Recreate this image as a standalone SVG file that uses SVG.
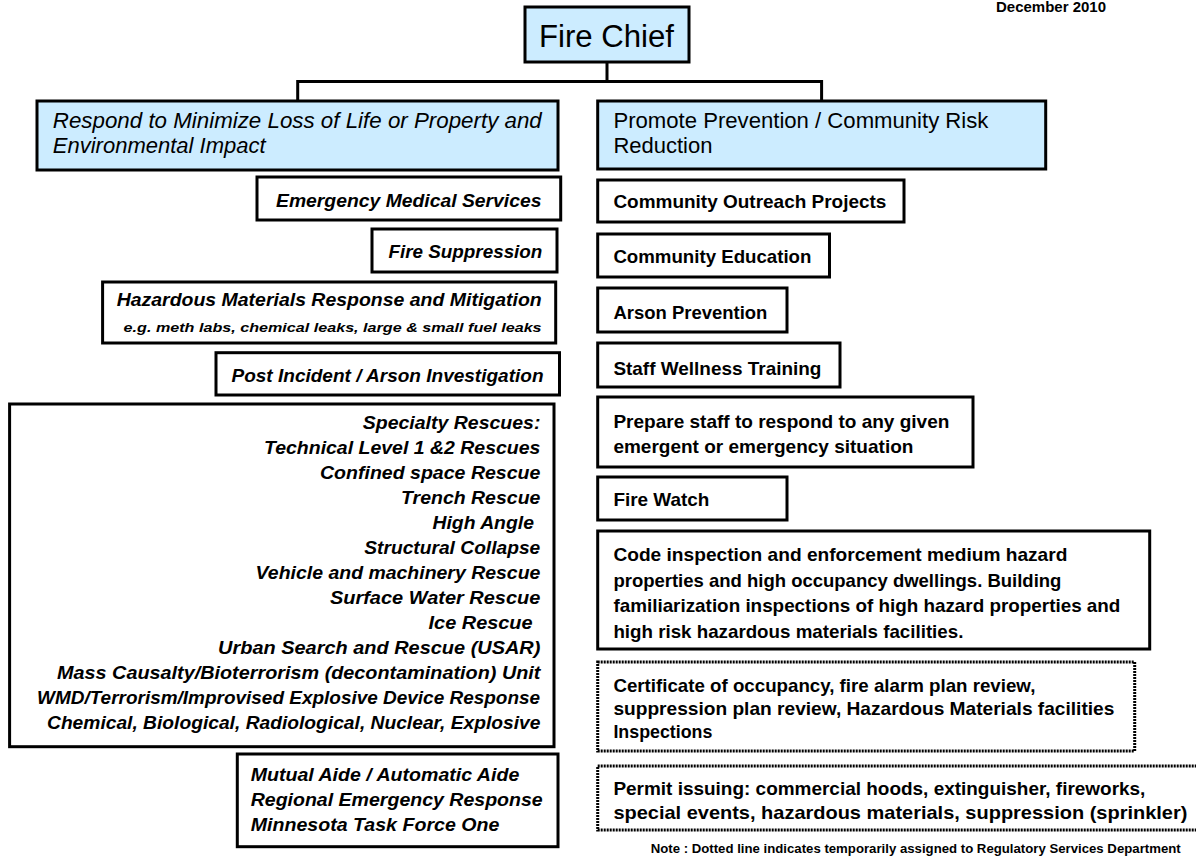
<svg xmlns="http://www.w3.org/2000/svg" width="1196" height="863" viewBox="0 0 1196 863">
<style>
.box{fill:#fff;stroke:#000;stroke-width:3}
.hdr{fill:#CCECFF;stroke:#000;stroke-width:3}
.dot{fill:#fff;stroke:#000;stroke-width:3;stroke-dasharray:2 1}
.conn{fill:none;stroke:#000;stroke-width:3}
text{font-family:"Liberation Sans",Arial,sans-serif;fill:#000}
.li{font-size:19px;font-weight:bold;font-style:italic}
.ri{font-size:19px;font-weight:bold}
.hl{font-size:22px;font-style:italic}
.hr{font-size:22px}
.sm{font-size:13.5px;font-weight:bold;font-style:italic}
.note{font-size:13px;font-weight:bold}
.date{font-size:14px;font-weight:bold}
</style>
<rect width="1196" height="863" fill="#fff"/>
<g id="connectors">
<path class="conn" d="M607 62 V81.5 M297.7 81.5 H821.6 M297.7 80 V101 M821.6 80 V101"/>
</g>
<g id="date"><text class="date" x="996" y="12" textLength="110" lengthAdjust="spacingAndGlyphs">December 2010</text></g>
<g id="fire-chief">
<rect class="hdr" x="525" y="7" width="164" height="55"/>
<text x="539" y="46.7" style="font-size:31px" textLength="135" lengthAdjust="spacingAndGlyphs">Fire Chief</text>
</g>
<g id="respond">
<rect class="hdr" x="37" y="101" width="521" height="69"/>
<text class="hl" x="52.8" y="128" textLength="489" lengthAdjust="spacingAndGlyphs">Respond to Minimize Loss of Life or Property and</text>
<text class="hl" x="52.8" y="153">Environmental Impact</text>
</g>
<g id="prevention">
<rect class="hdr" x="597.7" y="101" width="448" height="68"/>
<text class="hr" x="613.4" y="128" textLength="375" lengthAdjust="spacingAndGlyphs">Promote Prevention / Community Risk</text>
<text class="hr" x="613.4" y="153">Reduction</text>
</g>
<g id="ems">
<rect class="box" x="257" y="177" width="303.7" height="43"/>
<text class="li" x="276" y="206.7" textLength="265.5" lengthAdjust="spacingAndGlyphs">Emergency Medical Services</text>
</g>
<g id="fire-suppression">
<rect class="box" x="372" y="229" width="185" height="43"/>
<text class="li" x="388.4" y="258" textLength="154" lengthAdjust="spacingAndGlyphs">Fire Suppression</text>
</g>
<g id="hazmat">
<rect class="box" x="102.6" y="282" width="453.1" height="61"/>
<text class="li" x="116.7" y="306" textLength="425" lengthAdjust="spacingAndGlyphs">Hazardous Materials Response and Mitigation</text>
<text class="sm" x="123.6" y="331.7" textLength="418" lengthAdjust="spacingAndGlyphs">e.g. meth labs, chemical leaks, large &amp; small fuel leaks</text>
</g>
<g id="post-incident">
<rect class="box" x="216" y="352.7" width="343.5" height="42.3"/>
<text class="li" x="231.5" y="381.7" textLength="312" lengthAdjust="spacingAndGlyphs">Post Incident / Arson Investigation</text>
</g>
<g id="specialty">
<rect class="box" x="9.6" y="404" width="544.4" height="342.7"/>
<text class="li" x="362.8" y="429" textLength="177.6" lengthAdjust="spacingAndGlyphs">Specialty Rescues:</text>
<text class="li" x="264" y="454" textLength="276.4" lengthAdjust="spacingAndGlyphs">Technical Level 1 &amp;2 Rescues</text>
<text class="li" x="320" y="479" textLength="220.4" lengthAdjust="spacingAndGlyphs">Confined space Rescue</text>
<text class="li" x="401" y="504" textLength="139.4" lengthAdjust="spacingAndGlyphs">Trench Rescue</text>
<text class="li" x="432.5" y="529" textLength="101.4" lengthAdjust="spacingAndGlyphs">High Angle</text>
<text class="li" x="364.3" y="554" textLength="176" lengthAdjust="spacingAndGlyphs">Structural Collapse</text>
<text class="li" x="255.6" y="579" textLength="284.8" lengthAdjust="spacingAndGlyphs">Vehicle and machinery Rescue</text>
<text class="li" x="329.9" y="604" textLength="210.5" lengthAdjust="spacingAndGlyphs">Surface Water Rescue</text>
<text class="li" x="428.6" y="629" textLength="104" lengthAdjust="spacingAndGlyphs">Ice Rescue</text>
<text class="li" x="218.1" y="654" textLength="322.3" lengthAdjust="spacingAndGlyphs">Urban Search and Rescue (USAR)</text>
<text class="li" x="57" y="679" textLength="483.4" lengthAdjust="spacingAndGlyphs">Mass Causalty/Bioterrorism (decontamination) Unit</text>
<text class="li" x="37.1" y="704" textLength="503" lengthAdjust="spacingAndGlyphs">WMD/Terrorism/Improvised Explosive Device Response</text>
<text class="li" x="47" y="729" textLength="493.4" lengthAdjust="spacingAndGlyphs">Chemical, Biological, Radiological, Nuclear, Explosive</text>
</g>
<g id="mutual-aide">
<rect class="box" x="237.3" y="754" width="320.7" height="92.7"/>
<text class="li" x="250.7" y="781" textLength="268.6" lengthAdjust="spacingAndGlyphs">Mutual Aide / Automatic Aide</text>
<text class="li" x="250.7" y="806" textLength="292" lengthAdjust="spacingAndGlyphs">Regional Emergency Response</text>
<text class="li" x="250.7" y="831" textLength="248.7" lengthAdjust="spacingAndGlyphs">Minnesota Task Force One</text>
</g>
<g id="outreach">
<rect class="box" x="597.7" y="180" width="306.3" height="42"/>
<text class="ri" x="613.4" y="208" textLength="273" lengthAdjust="spacingAndGlyphs">Community Outreach Projects</text>
</g>
<g id="education">
<rect class="box" x="597.7" y="234" width="231.8" height="43"/>
<text class="ri" x="613.4" y="263" textLength="198" lengthAdjust="spacingAndGlyphs">Community Education</text>
</g>
<g id="arson-prevention">
<rect class="box" x="597.7" y="288" width="189.3" height="44"/>
<text class="ri" x="613.4" y="319" textLength="154" lengthAdjust="spacingAndGlyphs">Arson Prevention</text>
</g>
<g id="wellness">
<rect class="box" x="597.7" y="343" width="242.3" height="44"/>
<text class="ri" x="613.4" y="375" textLength="208" lengthAdjust="spacingAndGlyphs">Staff Wellness Training</text>
</g>
<g id="prepare">
<rect class="box" x="597.7" y="397" width="375.3" height="70"/>
<text class="ri" x="613.4" y="428" textLength="336" lengthAdjust="spacingAndGlyphs">Prepare staff to respond to any given</text>
<text class="ri" x="613.4" y="453" textLength="300" lengthAdjust="spacingAndGlyphs">emergent or emergency situation</text>
</g>
<g id="fire-watch">
<rect class="box" x="597.7" y="477" width="189.3" height="43"/>
<text class="ri" x="613.4" y="506" textLength="96" lengthAdjust="spacingAndGlyphs">Fire Watch</text>
</g>
<g id="code-inspection">
<rect class="box" x="597.7" y="531" width="552" height="118"/>
<text class="ri" x="613.4" y="561" textLength="454" lengthAdjust="spacingAndGlyphs">Code inspection and enforcement medium hazard</text>
<text class="ri" x="613.4" y="586.5" textLength="448" lengthAdjust="spacingAndGlyphs">properties and high occupancy dwellings. Building</text>
<text class="ri" x="613.4" y="612" textLength="507" lengthAdjust="spacingAndGlyphs">familiarization inspections of high hazard properties and</text>
<text class="ri" x="613.4" y="637.5" textLength="350" lengthAdjust="spacingAndGlyphs">high risk hazardous materials facilities.</text>
</g>
<g id="certificate">
<rect class="dot" x="597.7" y="662" width="537" height="89"/>
<text class="ri" x="613.4" y="692" textLength="422" lengthAdjust="spacingAndGlyphs">Certificate of occupancy, fire alarm plan review,</text>
<text class="ri" x="613.4" y="715" textLength="501" lengthAdjust="spacingAndGlyphs">suppression plan review, Hazardous Materials facilities</text>
<text class="ri" x="613.4" y="738" textLength="99" lengthAdjust="spacingAndGlyphs">Inspections</text>
</g>
<g id="permit">
<rect class="dot" x="597.7" y="766" width="620" height="64"/>
<text class="ri" x="613.4" y="795" textLength="532" lengthAdjust="spacingAndGlyphs">Permit issuing: commercial hoods, extinguisher, fireworks,</text>
<text class="ri" x="613.4" y="819" textLength="574" lengthAdjust="spacingAndGlyphs">special events, hazardous materials, suppression (sprinkler)</text>
</g>
<g id="note">
<text class="note" x="650.7" y="853" textLength="530" lengthAdjust="spacingAndGlyphs">Note : Dotted line indicates temporarily assigned to Regulatory Services Department</text>
</g>
</svg>
